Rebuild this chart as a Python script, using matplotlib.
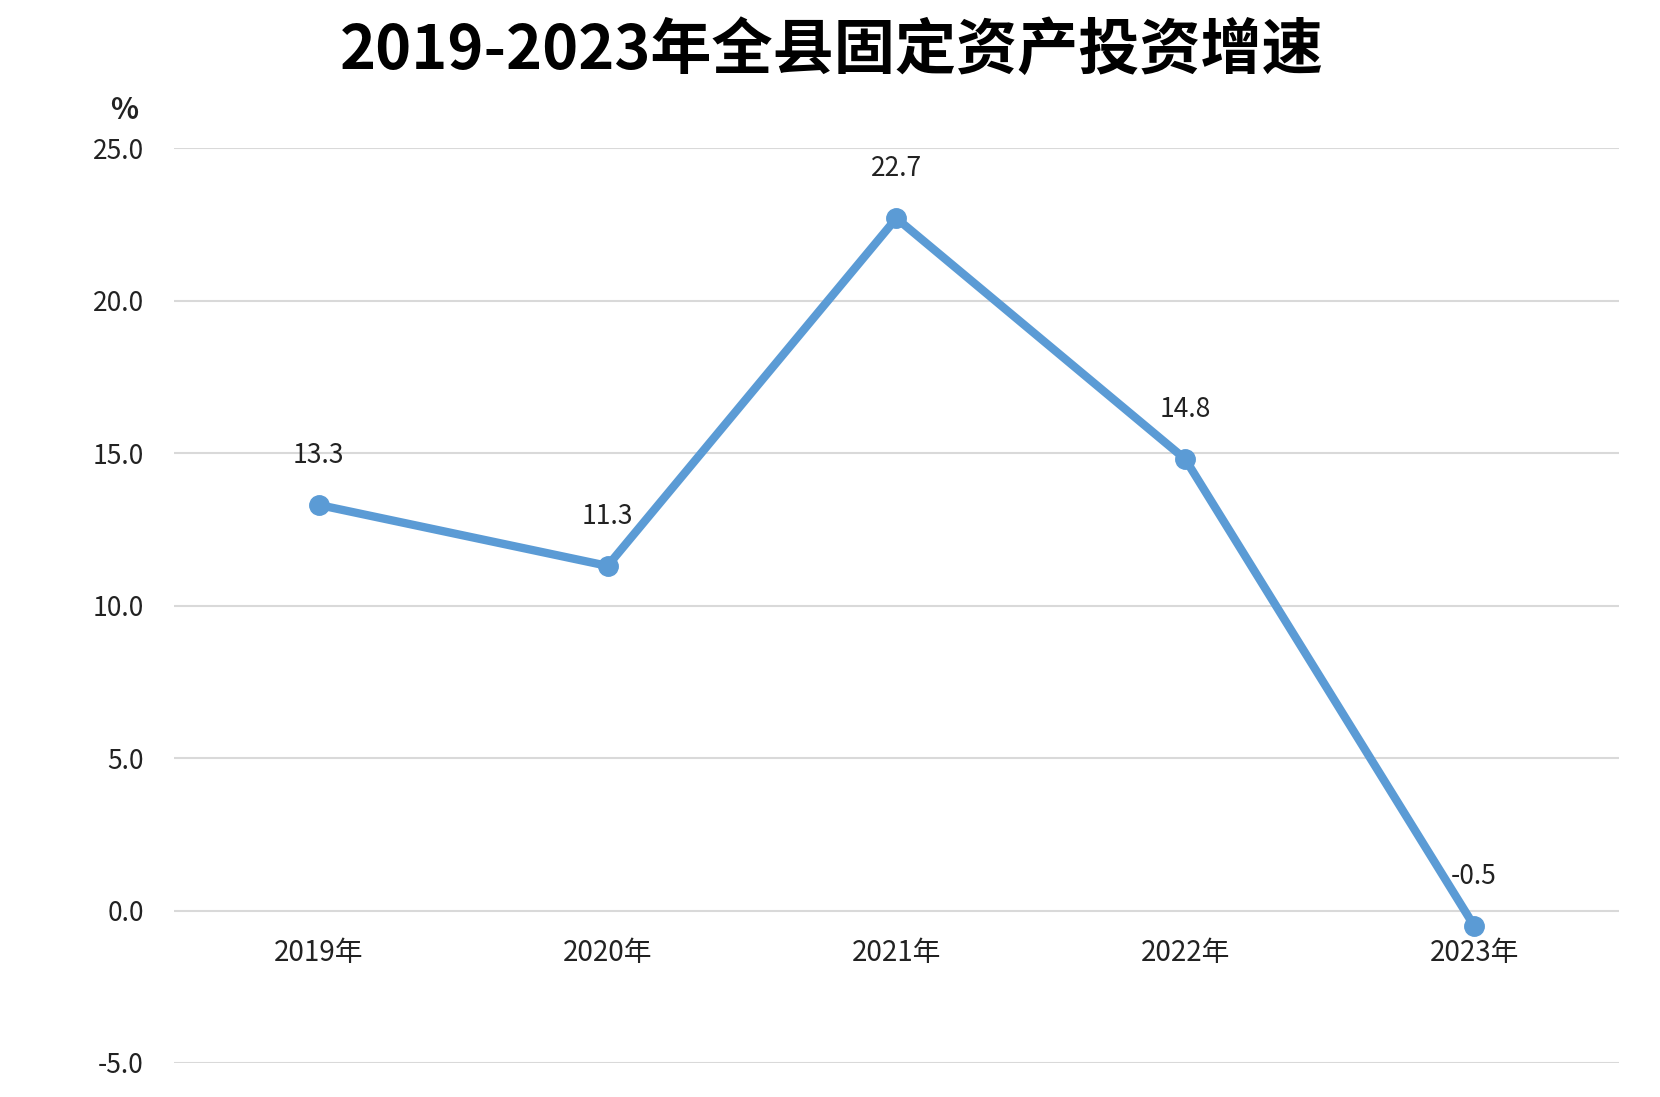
import matplotlib
matplotlib.use('Agg')
import matplotlib.pyplot as plt

plt.rcParams['font.family'] = ['Noto Sans CJK SC', 'DejaVu Sans']

# 数据
years = ['2019年', '2020年', '2021年', '2022年', '2023年']
growth = [13.3, 11.3, 22.7, 14.8, -0.5]
yticks = [-5.0, 0.0, 5.0, 10.0, 15.0, 20.0, 25.0]

fig = plt.figure(figsize=(16.6, 10.97), dpi=100)
ax = fig.add_axes([0.105, 0.031, 0.870, 0.834])

# 横轴放在 0 处（先设位置，否则会重置刻度样式）
ax.spines['bottom'].set_position(('data', 0))
ax.spines['bottom'].set_visible(False)
for s in ['top', 'right', 'left']:
    ax.spines[s].set_visible(False)

x = list(range(len(years)))
ax.plot(x, growth, color='#5B9BD5', linewidth=6, marker='o', markersize=14,
        solid_capstyle='round', zorder=3)

for xi, v in zip(x, growth):
    ax.annotate(f'{v:.1f}', (xi, v), xytext=(0, 26), textcoords='offset points',
                ha='center', va='bottom', fontsize=19, color='#222222')

ax.set_xlim(-0.5, len(years) - 0.5)
ax.set_ylim(-5, 25)
ax.set_yticks(yticks)
ax.set_yticklabels([f'{t:.1f}' for t in yticks], fontsize=19, color='#222222')
ax.set_xticks(x)
ax.set_xticklabels(years, fontsize=20, color='#222222')

ax.grid(axis='y', color='#d9d9d9', linewidth=1.5)
ax.set_axisbelow(True)
ax.tick_params(axis='both', length=0)
ax.tick_params(axis='x', pad=20)
ax.tick_params(axis='y', pad=22)

ax.text(-0.035, 1.025, '%', transform=ax.transAxes, fontsize=21, ha='center',
        va='bottom', color='#222222', fontweight='bold')

fig.text(0.501, 0.953, '2019-2023年全县固定资产投资增速', ha='center', va='center',
         fontsize=44, fontweight='bold', color='black')

fig.savefig('out.png', dpi=100)
